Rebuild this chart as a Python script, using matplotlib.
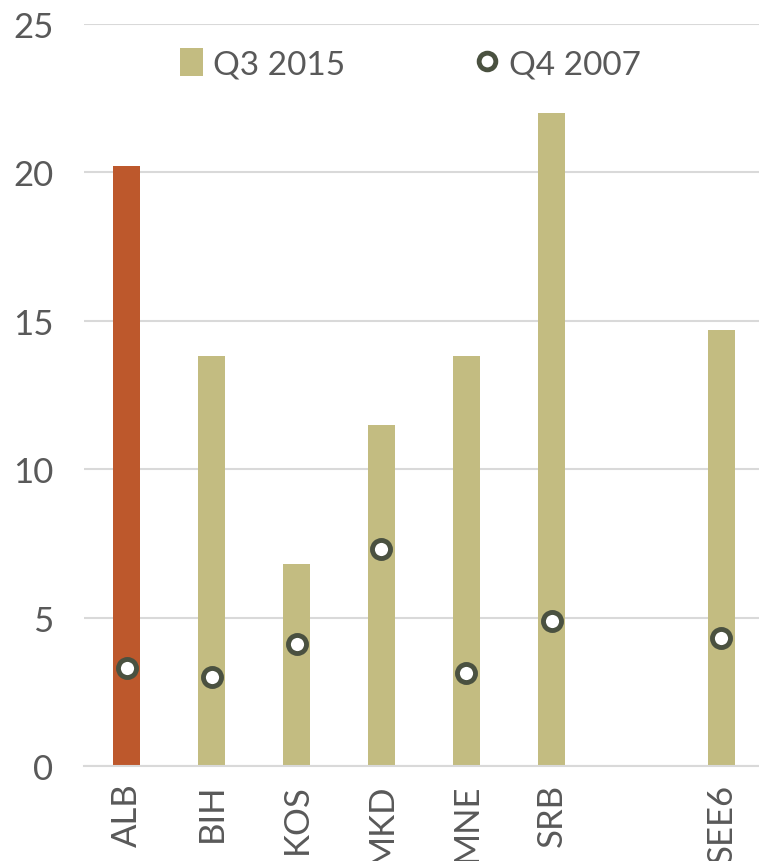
import matplotlib
matplotlib.use("Agg")
import matplotlib.pyplot as plt
from matplotlib.lines import Line2D
from matplotlib.patches import Patch

# data
categories = ["ALB", "BIH", "KOS", "MKD", "MNE", "SRB", "", "SEE6"]
q3_2015 = [20.2, 13.8, 6.8, 11.5, 13.8, 22.0, None, 14.7]
q4_2007 = [3.3, 3.0, 4.1, 7.3, 3.15, 4.9, None, 4.3]
highlight = "ALB"

GOLD = "#C3BC81"
ORANGE = "#BD582C"
DARK = "#4A5140"
TXT = "#595959"
GRID = "#D9D9D9"

plt.rcParams["font.family"] = ["Lato", "DejaVu Sans"]

fig = plt.figure(figsize=(7.59, 8.62), dpi=100)
ax = fig.add_axes([84 / 759, 1 - 767 / 862, 680 / 759, 742 / 862])

x = list(range(len(categories)))
for i, (c, v) in enumerate(zip(categories, q3_2015)):
    if v is None:
        continue
    ax.bar(i, v, width=0.32, color=ORANGE if c == highlight else GOLD, zorder=2)

px = [i for i, v in zip(x, q4_2007) if v is not None]
py = [v for v in q4_2007 if v is not None]
ax.plot(px, py, "o", ms=13, mfc="white", mec=DARK, mew=3.5, ls="none", zorder=3)

ax.set_xlim(-0.5, len(categories) - 0.5)
ax.set_ylim(0, 25)
ax.set_yticks([0, 5, 10, 15, 20, 25])
ax.yaxis.grid(True, color=GRID, lw=1.5, zorder=0)
ax.set_axisbelow(True)
for s in ["top", "right", "left"]:
    ax.spines[s].set_visible(False)
ax.spines["bottom"].set_color(GRID)
ax.spines["bottom"].set_linewidth(1.5)

ax.set_xticks(x)
ax.set_xticklabels(categories, rotation=90, fontsize=25, color=TXT, va="top")
ax.tick_params(axis="x", length=0, pad=12)
ax.tick_params(axis="y", length=0, labelsize=25, labelcolor=TXT, pad=22)

handles = [
    Patch(facecolor=GOLD, edgecolor="none"),
    Line2D([], [], marker="o", ls="none", ms=12, mfc="white", mec=DARK, mew=3.5),
]
ax.legend(handles, ["Q3 2015", "Q4 2007"], loc="upper center",
          bbox_to_anchor=(0.48, 1.008), ncol=2, frameon=False, fontsize=24,
          labelcolor=TXT, handlelength=0.7, handleheight=0.9,
          handletextpad=0.3, columnspacing=3.9)

fig.savefig("out.png", dpi=100)
